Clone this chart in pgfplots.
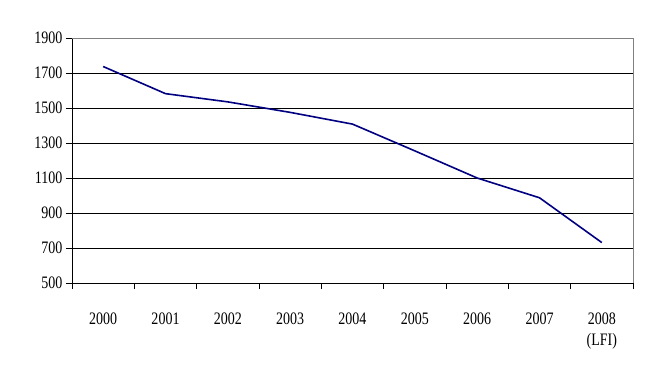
\documentclass[border=0pt]{standalone}
\usepackage{pgfplots}
\pgfplotsset{compat=1.18}
\usepackage{fontspec}
\setmainfont{Liberation Serif}
\definecolor{navyline}{RGB}{0,0,128}
\newcommand{\tall}[1]{\scalebox{1}[1.25]{#1}}
\begin{document}
\begin{tikzpicture}
\path[use as bounding box] (-72pt,-97pt) rectangle (580pt,283pt);
\begin{axis}[
  at={(0,0)}, anchor=south west,
  width=561pt, height=245pt, scale only axis,
  xmin=-0.5, xmax=8.5, ymin=500, ymax=1900,
  axis x line*=bottom, axis y line*=left,
  axis line style={black, thin},
  xtick={0,...,8},
  xticklabels={\tall{2000},\tall{2001},\tall{2002},\tall{2003},\tall{2004},\tall{2005},\tall{2006},\tall{2007},{\tall{2008}\\[4pt]\tall{(LFI)}}},
  major x tick style={draw=none},
  minor xtick={-0.5,0.5,...,8.5},
  minor tick length=6pt,
  xticklabel style={align=center, anchor=north, yshift=-20pt, font=\fontsize{14}{17}\selectfont},
  ytick={500,700,...,1900},
  yticklabel={\tall{\pgfmathprintnumber[assume math mode=true,1000 sep={}]{\tick}}},
  yticklabel style={font=\fontsize{14}{17}\selectfont},
  major tick length=6pt,
  tick align=outside,
  tick style={black, thin},
  ymajorgrids, grid style={black, thin},
  /pgf/number format/assume math mode=true,
  /pgf/number format/1000 sep={},
  clip=false,
]
\addplot[navyline, line width=1.6pt] coordinates {
 (0,1737) (1,1582) (2,1535) (3,1475) (4,1408) (5,1255) (6,1100) (7,987) (8,731)
};
\draw[gray, thin] (rel axis cs:0,1) -- (rel axis cs:1,1) -- (rel axis cs:1,0);
\end{axis}
\end{tikzpicture}
\end{document}
